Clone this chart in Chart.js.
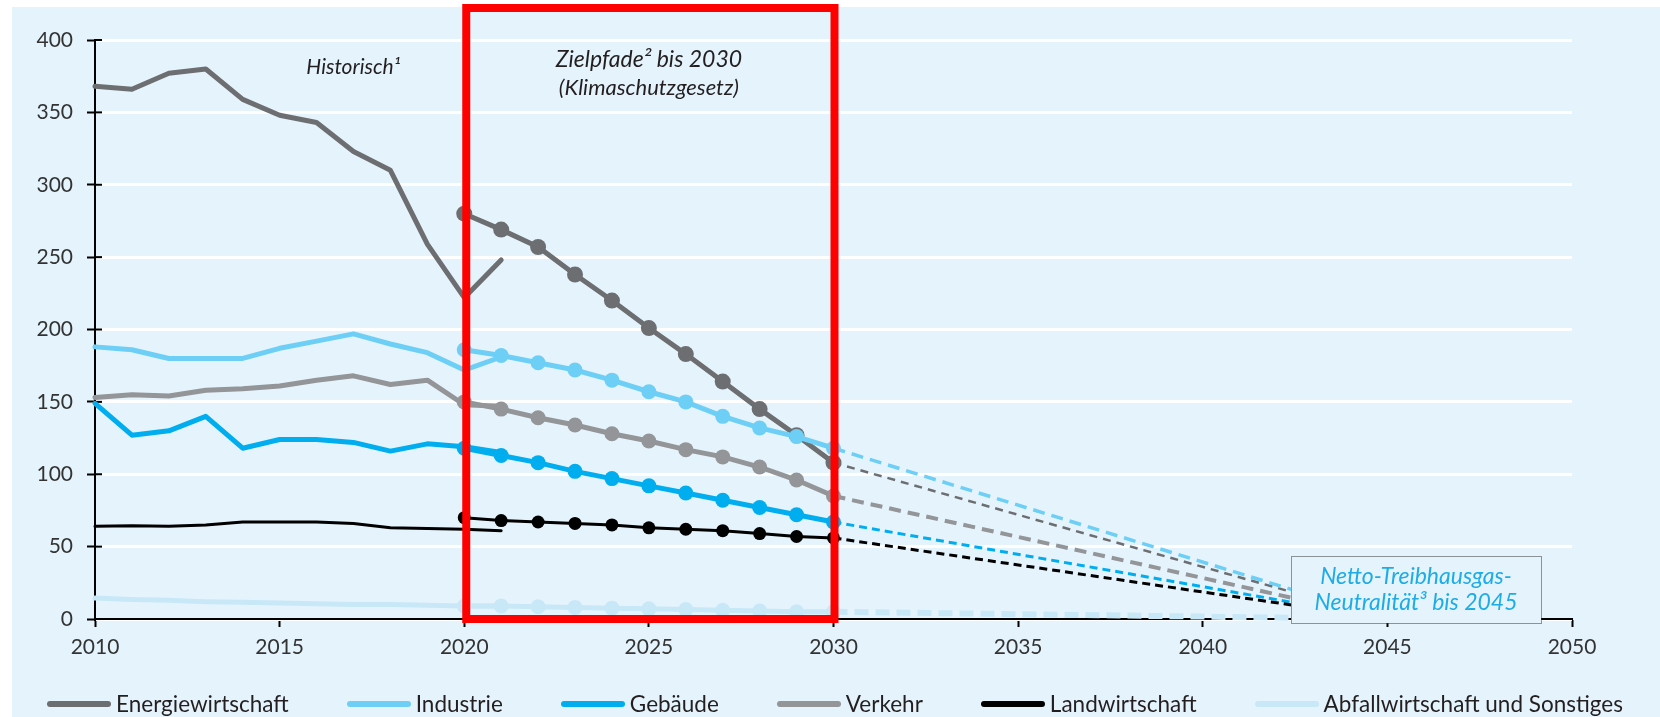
<!DOCTYPE html>
<html lang="de">
<head>
<meta charset="utf-8">
<title>Treibhausgasemissionen nach Sektoren</title>
<script src="https://cdn.jsdelivr.net/npm/chart.js@4.4.1/dist/chart.umd.min.js"></script>
<style>
  body { margin: 0; background: #fff; }
  #wrap { position: relative; width: 1660px; height: 717px; }
  #legende {
    position: absolute; left: 0; top: 690px; width: 1660px;
    display: flex; justify-content: center; padding-left: 10px; box-sizing: border-box;
    font: 22.5px Lato, sans-serif; line-height: 27px; color: #231f20;
  }
  #legende .eintrag { display: flex; align-items: center; margin: 0 29px; white-space: nowrap; }
  #legende .linie { width: 64px; height: 6px; border-radius: 3px; margin-right: 5px; }
</style>
</head>
<body>
<div id="wrap">
  <canvas id="chart" width="1660" height="717"></canvas>
  <div id="legende"></div>
</div>
<script>
// Jahre
const jahreHist = [2010, 2011, 2012, 2013, 2014, 2015, 2016, 2017, 2018, 2019, 2020, 2021];
const jahreZiel = [2020, 2021, 2022, 2023, 2024, 2025, 2026, 2027, 2028, 2029, 2030];
const jahreNeutral = [2030, 2045];

// Emissionen historisch (Mio. t CO2-Äq.)
const energieHist   = [368, 366, 377, 380, 359, 348, 343, 323, 310, 259, 222, 248];
const industrieHist = [188, 186, 180, 180, 180, 187, 192, 197, 190, 184, 172, 181];
const gebaeudeHist  = [149, 127, 130, 140, 118, 124, 124, 122, 116, 121, 119, 115];
const verkehrHist   = [153, 155, 154, 158, 159, 161, 165, 168, 162, 165, 148, 147];
const landwHist     = [64, 64.5, 64, 65, 67, 67, 67, 66, 63, 62.5, 62, 61];
const abfallHist    = [14.5, 13.5, 13, 12, 11.5, 11, 10.5, 10, 10, 9.5, 9, 9];

// Zielpfade nach Klimaschutzgesetz
const energieZiel   = [280, 269, 257, 238, 220, 201, 183, 164, 145, 127, 108];
const industrieZiel = [186, 182, 177, 172, 165, 157, 150, 140, 132, 126, 118];
const gebaeudeZiel  = [118, 113, 108, 102, 97, 92, 87, 82, 77, 72, 67];
const verkehrZiel   = [150, 145, 139, 134, 128, 123, 117, 112, 105, 96, 85];
const landwZiel     = [70, 68, 67, 66, 65, 63, 62, 61, 59, 57, 56];
const abfallZiel    = [9, 9, 8.5, 8, 7.5, 7, 6.5, 6, 5.5, 5, 5];

// Netto-Neutralität 2045
const neutral2045 = 0;

const sektoren = ['Energiewirtschaft', 'Industrie', 'Gebäude', 'Verkehr', 'Landwirtschaft', 'Abfallwirtschaft und Sonstiges'];
const hist = [energieHist, industrieHist, gebaeudeHist, verkehrHist, landwHist, abfallHist];
const ziel = [energieZiel, industrieZiel, gebaeudeZiel, verkehrZiel, landwZiel, abfallZiel];

const xTicks = [2010, 2015, 2020, 2025, 2030, 2035, 2040, 2045, 2050];
const yTicks = [0, 50, 100, 150, 200, 250, 300, 350, 400];

// Darstellung je Sektor
const farben   = ['#6d6e71', '#6dcff6', '#00aeef', '#939598', '#000000', '#c8e8f8'];
const linie    = [5, 5, 5, 5, 3, 5];
const punkt    = [8, 7.5, 7.5, 7.5, 6.5, 7.5];
const strichB  = [2.5, 3.5, 3, 4, 3, 6];
const strichM  = [[8, 6], [12, 7], [8, 5], [12, 7], [8, 5], [14, 7]];

const hintergrund = '#e5f4fc';

function punkte(jahre, werte) {
    return jahre.map((j, i) => ({ x: j, y: werte[i] }));
}

let datensaetze = [];
sektoren.forEach((name, i) => {
    let order = 6 - i;
    datensaetze.push({
        label: name,
        data: punkte(jahreHist, hist[i]),
        borderColor: farben[i],
        borderWidth: linie[i],
        pointRadius: 0,
        borderJoinStyle: 'round',
        borderCapStyle: 'round',
        order: order
    });
    datensaetze.push({
        label: name + ' (Zielpfad)',
        data: punkte(jahreZiel, ziel[i]),
        borderColor: farben[i],
        borderWidth: linie[i],
        pointRadius: punkt[i],
        pointBackgroundColor: farben[i],
        pointBorderWidth: 0,
        order: order
    });
    datensaetze.push({
        label: name + ' (bis 2045)',
        data: punkte(jahreNeutral, [ziel[i][ziel[i].length - 1], neutral2045]),
        borderColor: farben[i],
        borderWidth: strichB[i],
        borderDash: strichM[i],
        pointRadius: 0,
        order: order + 0.5
    });
});

const schrift = { family: 'Lato, sans-serif', size: 21 };

// hellblaue Fläche
const flaeche = {
    id: 'flaeche',
    beforeDraw(chart) {
        const c = chart.ctx;
        c.save();
        c.fillStyle = hintergrund;
        c.fillRect(12, 7, chart.width - 12, chart.height - 7);
        c.restore();
    }
};

// Teilstriche der y-Achse auch nach innen
const achsenkreuz = {
    id: 'achsenkreuz',
    beforeDatasetsDraw(chart) {
        const c = chart.ctx, y = chart.scales.y, links = chart.chartArea.left;
        c.save();
        c.strokeStyle = '#000';
        c.lineWidth = 2;
        y.ticks.forEach(t => {
            const py = y.getPixelForValue(t.value);
            c.beginPath();
            c.moveTo(links, py);
            c.lineTo(links + 7, py);
            c.stroke();
        });
        c.restore();
    }
};

// Beschriftungen, Kasten 2045 und roter Rahmen
const beschriftung = {
    id: 'beschriftung',
    afterDatasetsDraw(chart) {
        const c = chart.ctx, x = chart.scales.x, y = chart.scales.y;
        c.save();

        c.fillStyle = '#231f20';
        c.font = 'italic 21px Lato, sans-serif';
        c.textAlign = 'center';
        c.textBaseline = 'middle';
        c.fillText('Historisch¹', x.getPixelForValue(2017), 67);
        c.font = 'italic 23px Lato, sans-serif';
        c.fillText('Zielpfade² bis 2030', x.getPixelForValue(2025), 60);
        c.font = 'italic 22px Lato, sans-serif';
        c.fillText('(Klimaschutzgesetz)', x.getPixelForValue(2025), 88);

        // Kasten Netto-Neutralität
        const bx = 1291, by = 556, bw = 250, bh = 67;
        c.fillStyle = hintergrund;
        c.fillRect(bx, by, bw, bh);
        c.strokeStyle = '#333';
        c.lineWidth = 1;
        c.setLineDash([1, 1]);
        c.strokeRect(bx + 0.5, by + 0.5, bw, bh);
        c.setLineDash([]);
        c.fillStyle = '#1eace6';
        c.font = 'italic 23px Lato, sans-serif';
        c.fillText('Netto-Treibhausgas-', bx + bw / 2, by + 21);
        c.fillText('Neutralität³ bis 2045', bx + bw / 2, by + 47);

        // roter Rahmen um die Zielpfade
        const l = x.getPixelForValue(2020) + 2, r = x.getPixelForValue(2030) + 1;
        const o = 8, u = y.getPixelForValue(0);
        c.strokeStyle = '#ff0000';
        c.lineWidth = 8;
        c.lineJoin = 'miter';
        c.strokeRect(l, o, r - l, u - o);
        c.restore();
    }
};

let ctx = document.getElementById('chart');

let grafik = new Chart(ctx, {
    type: 'line',
    data: { datasets: datensaetze },
    options: {
        responsive: false,
        devicePixelRatio: 1,
        animation: false,
        events: [],
        clip: false,
        layout: { padding: { left: 0, right: 88, top: 40, bottom: 58 } },
        elements: { line: { tension: 0 } },
        plugins: {
            legend: { display: false },
            tooltip: { enabled: false }
        },
        scales: {
            x: {
                type: 'linear',
                min: 2010,
                max: 2050,
                afterFit: s => { s.height = 40; },
                afterBuildTicks: s => { s.ticks = xTicks.map(v => ({ value: v })); },
                ticks: { font: schrift, color: '#333', padding: 8, callback: v => String(v), maxRotation: 0 },
                grid: { drawOnChartArea: false, tickLength: 8, tickColor: '#000', tickWidth: 2 },
                border: { color: '#000', width: 2 }
            },
            y: {
                min: 0,
                max: 400,
                afterFit: s => { s.width = 95; },
                afterBuildTicks: s => { s.ticks = yTicks.map(v => ({ value: v })); },
                ticks: { font: schrift, color: '#333', padding: 14 },
                grid: { color: '#ffffff', lineWidth: 3, tickLength: 8, tickColor: '#000', tickWidth: 2 },
                border: { color: '#000', width: 2 }
            }
        }
    },
    plugins: [flaeche, achsenkreuz, beschriftung]
});

// Legende
const legende = document.getElementById('legende');
sektoren.forEach((name, i) => {
    let e = document.createElement('span');
    e.className = 'eintrag';
    let l = document.createElement('span');
    l.className = 'linie';
    l.style.background = farben[i];
    e.appendChild(l);
    e.appendChild(document.createTextNode(name));
    legende.appendChild(e);
});
</script>
</body>
</html>
